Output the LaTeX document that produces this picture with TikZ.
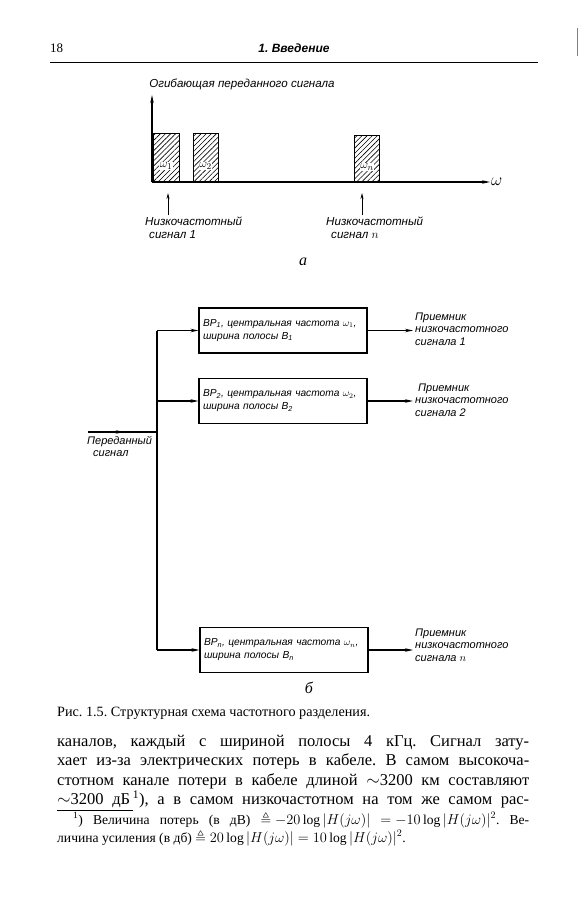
\documentclass[tikz,border=0pt]{standalone}
\usepackage{amssymb}
\usepackage{fontspec}
\setmainfont{Liberation Serif}
\newfontfamily\labf{Liberation Sans}
\usetikzlibrary{arrows.meta,patterns.meta,decorations.markings}
\begin{document}
\frenchspacing
\begin{tikzpicture}[x=1pt,y=-1pt,
  ln/.style={line width=1.1pt},
  arr/.style={line width=1.1pt,-{Stealth[length=8pt,width=3.5pt]}},
  lab/.style={font=\labf\itshape\fontsize{11.6}{13}\selectfont,inner sep=0pt,align=left},
  rlab/.style={font=\labf\itshape\fontsize{11}{12.3}\selectfont,inner sep=0pt,align=left},
  band/.style={draw,line width=1pt,pattern={Lines[angle=45,distance=3.6pt,line width=0.6pt]},minimum width=26pt,minimum height=48pt,anchor=south west,inner sep=0pt},
  wlab/.style={fill=white,inner sep=0.5pt,font=\fontsize{12.5}{13}\selectfont},
  fbox/.style={draw,line width=1.1pt,minimum width=168pt,minimum height=45pt,text width=160pt,align=left,font=\labf\itshape\fontsize{10.2}{13}\selectfont,inner sep=4pt},
  body/.style={anchor=base west,inner sep=0pt,font=\fontsize{16.5}{19}\selectfont},
  foot/.style={anchor=base west,inner sep=0pt,font=\fontsize{13.6}{16}\selectfont},
  midarr/.style={decoration={markings,mark=at position 0.52 with {\arrow{Stealth[length=8pt,width=3.5pt]}}},postaction={decorate}}
]
\useasboundingbox (0,0) rectangle (586,900);

% header
\node[anchor=base west,inner sep=0pt,font=\fontsize{13}{15}\selectfont] (pg) at (50,52) {18};
\node[anchor=base,inner sep=0pt,font=\labf\bfseries\itshape\fontsize{12}{14}\selectfont] (hd) at (294,52) {1. Введение};
\coordinate (rl) at (50,62);
\coordinate (rr) at (538,62);
\draw[line width=0.8pt] (rl) -- (rr);
\coordinate (sa) at (577,28);
\coordinate (sb) at (577,56);
\draw[gray,line width=0.7pt] (sa) -- (sb);

% ---------- diagram a ----------
\coordinate (O) at (152,182);
\coordinate (Ytop) at (152,95);
\coordinate (Xend) at (490,182);
\draw[arr] (O) -- (Ytop);
\draw[arr] (O) -- (Xend);
\node[lab,anchor=south] (ttl) at (242,90) {Огибающая переданного сигнала};
\node[anchor=west,inner sep=0pt,font=\fontsize{17}{18}\selectfont] (wx) at (491,182) {$\omega$};

\node[band] (s1) at (153,182) {};
\node[band,minimum width=25pt] (s2) at (193,182) {};
\node[band,minimum height=46pt,minimum width=25pt] (sn) at (354,182) {};
\node[wlab] (w1) at (166,166) {$\omega_1$};
\node[wlab] (w2) at (205.5,166) {$\omega_2$};
\node[wlab] (wn) at (367,167) {$\omega_n$};

\coordinate (a1b) at (168,215);
\coordinate (a1t) at (168,193);
\coordinate (anb) at (362,215);
\coordinate (ant) at (362,193);
\draw[line width=0.8pt,-{Stealth[length=6pt,width=3pt]}] (a1b) -- (a1t);
\draw[line width=0.8pt,-{Stealth[length=6pt,width=3pt]}] (anb) -- (ant);
\node[lab,anchor=north west] (l1) at (145,217) {Низкочастотный\\\hspace*{4pt}сигнал 1};
\node[lab,anchor=north west] (ln) at (326,217) {Низкочастотный\\\hspace*{5pt}сигнал $n$};
\node[inner sep=0pt,font=\itshape\fontsize{16}{17}\selectfont] (ca) at (303,262) {а};

% ---------- diagram b ----------
\node[fbox] (f1) at (283,330.5) {BP\textsubscript{1}, центральная частота $\omega_1$,\\ширина полосы B\textsubscript{1}};
\node[fbox] (f2) at (283,401) {BP\textsubscript{2}, центральная частота $\omega_2$,\\ширина полосы B\textsubscript{2}};
\node[fbox] (fn) at (284,650) {BP\textsubscript{n}, центральная частота $\omega_n$,\\ширина полосы B\textsubscript{n}};

\coordinate (bt) at (157,330.5);
\coordinate (bm) at (157,401);
\coordinate (bb) at (157,650);
\coordinate (in) at (88,432);
\coordinate (jn) at (157,432);
\draw[ln] (bt) -- (bb);
\draw[arr] (bt) -- (f1.west);
\draw[arr] (bm) -- (f2.west);
\draw[arr] (bb) -- (fn.west);
\draw[ln,midarr] (in) -- (jn);
\node[rlab,anchor=north west] (inl) at (87,436) {Переданный\\\hspace*{6pt}сигнал};

\coordinate (o1) at (413,330.5);
\coordinate (o2) at (413,401);
\coordinate (on) at (413,650);
\draw[arr] (f1.east) -- (o1);
\draw[arr] (f2.east) -- (o2);
\draw[arr] (fn.east) -- (on);
\node[rlab,anchor=west] (r1) at (415,329) {Приемник\\низкочастотного\\сигнала 1};
\node[rlab,anchor=west] (r2) at (415,400) {\hspace*{3pt}Приемник\\низкочастотного\\сигнала 2};
\node[rlab,anchor=west] (rn) at (415,645) {Приемник\\низкочастотного\\сигнала $n$};
\node[inner sep=0pt,font=\itshape\fontsize{16}{17}\selectfont] (cb) at (309,688) {б};

% caption
\node[anchor=base west,inner sep=0pt,font=\fontsize{14.2}{16}\selectfont] (cap) at (57,716) {Рис. 1.5. Структурная схема частотного разделения.};

% body
\node[body] (t1) at (57,746) {\makebox[472pt][s]{каналов, каждый с шириной полосы 4 кГц. Сигнал зату-}};
\node[body] (t2) at (57,765.5) {\makebox[472pt][s]{хает из-за электрических потерь в кабеле. В самом высокоча-}};
\node[body] (t3) at (57,785) {\makebox[472pt][s]{стотном канале потери в кабеле длиной $\sim$3200 км составляют}};
\node[body] (t4) at (57,804.5) {\makebox[472pt][s]{$\sim$3200 дБ\,\textsuperscript{1}), а в самом низкочастотном на том же самом рас-}};
\coordinate (fa) at (57,810);
\coordinate (fb) at (133,810);
\draw[line width=0.7pt] (fa) -- (fb);
\node[foot] (n1) at (73,824) {\medmuskip=4mu\thickmuskip=5mu\makebox[456pt][s]{\textsuperscript{1}) Величина потерь (в дВ) $\triangleq -20\log|H(j\omega)|$ $= -10\log|H(j\omega)|^2$. Ве-}};
\node[foot] (n2) at (57,842) {личина усиления (в дб) $\triangleq 20\log|H(j\omega)| = 10\log|H(j\omega)|^2$.};
\end{tikzpicture}
\end{document}
